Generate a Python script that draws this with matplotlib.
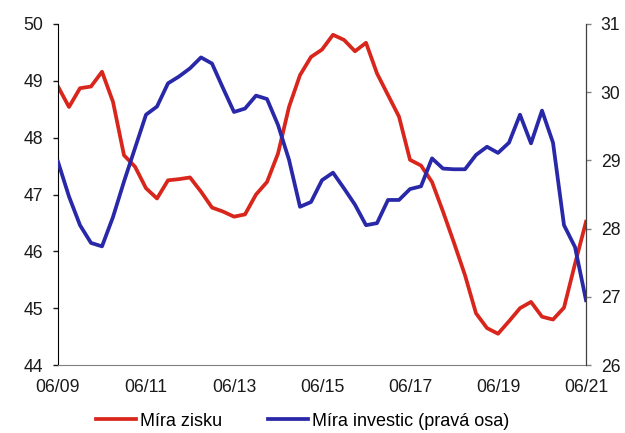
import matplotlib.pyplot as plt

plt.rcParams['font.family'] = ['Liberation Sans', 'DejaVu Sans']

# quarterly series, 06/2009 .. 06/2021
quarters = list(range(49))
mira_zisku = [48.90, 48.54, 48.87, 48.90, 49.16, 48.63, 47.69, 47.49, 47.11, 46.93,
              47.25, 47.27, 47.30, 47.05, 46.77, 46.70, 46.61, 46.65, 47.00, 47.22,
              47.72, 48.54, 49.10, 49.42, 49.55, 49.81, 49.72, 49.52, 49.67, 49.13,
              48.75, 48.37, 47.61, 47.51, 47.22, 46.70, 46.15, 45.58, 44.91, 44.65,
              44.55, 44.77, 45.00, 45.11, 44.85, 44.80, 45.01, 45.78, 46.52]
mira_investic = [28.98, 28.47, 28.05, 27.79, 27.74, 28.17, 28.69, 29.18, 29.67, 29.79,
                 30.13, 30.23, 30.35, 30.51, 30.42, 30.06, 29.71, 29.76, 29.95, 29.90,
                 29.52, 29.01, 28.32, 28.39, 28.71, 28.82, 28.59, 28.35, 28.05, 28.08,
                 28.42, 28.42, 28.58, 28.62, 29.03, 28.88, 28.87, 28.87, 29.08, 29.20,
                 29.11, 29.26, 29.67, 29.25, 29.73, 29.26, 28.05, 27.73, 26.95]
tick_pos = [0, 8, 16, 24, 32, 40, 48]
tick_labels = ['06/09', '06/11', '06/13', '06/15', '06/17', '06/19', '06/21']

red = '#D9261C'
blue = '#2828A8'

fig = plt.figure(figsize=(6.25, 4.33), dpi=100)
ax = fig.add_axes([0.0928, 0.157, 0.8448, 0.7876])
ax2 = ax.twinx()

l1, = ax.plot(quarters, mira_zisku, color=red, lw=2.7, label='Míra zisku')
l2, = ax2.plot(quarters, mira_investic, color=blue, lw=2.7, label='Míra investic (pravá osa)')

ax.set_xlim(0, 48)
ax.set_ylim(44, 50)
ax2.set_ylim(26, 31)
ax.set_xticks(tick_pos)
ax.set_xticklabels(tick_labels)
ax.set_yticks(range(44, 51))
ax2.set_yticks(range(26, 32))

for a in (ax, ax2):
    a.spines['top'].set_visible(False)
    a.tick_params(labelsize=12.7, colors='#1a1a1a')
ax.spines['left'].set_color('black')
ax.spines['bottom'].set_color('#808080')
ax2.spines['left'].set_visible(False)
ax2.spines['bottom'].set_visible(False)
ax2.spines['right'].set_color('#404040')
ax.tick_params(axis='x', length=0, pad=10)
ax.tick_params(axis='y', length=3.6, width=1, pad=7)
ax2.tick_params(axis='y', length=3.6, width=1, color='#808080', pad=7)

fig.legend(handles=[l1, l2], loc='lower center', bbox_to_anchor=(0.484, -0.03),
           ncol=2, frameon=False, fontsize=13, handlelength=2.2,
           handletextpad=0.22, columnspacing=2.55)

fig.savefig('out.png', dpi=100)
